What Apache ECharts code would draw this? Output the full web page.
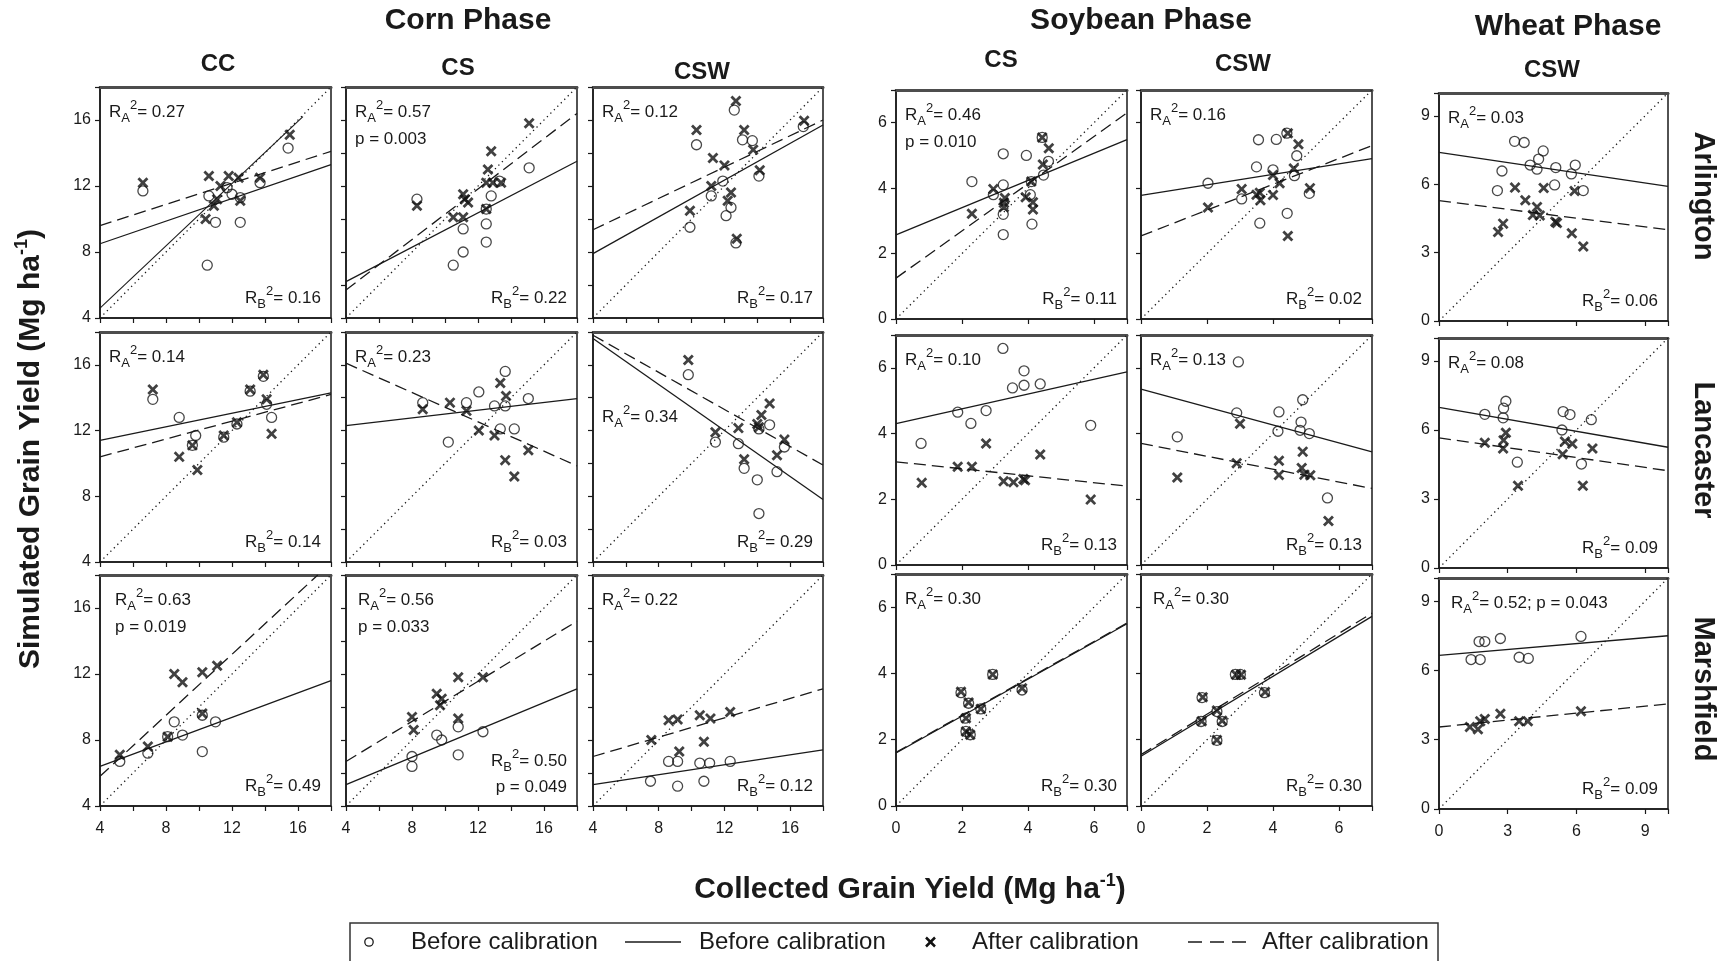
<!DOCTYPE html>
<html><head><meta charset="utf-8">
<script src="https://cdn.jsdelivr.net/npm/echarts@6/dist/echarts.min.js"></script>
<style>html,body{margin:0;padding:0;background:#fff;}#c{width:1728px;height:961px;}</style>
</head><body><div id="c"></div>
<script>
// ---------- labels ----------
const PHASES = ['Corn Phase', 'Soybean Phase', 'Wheat Phase'];
const ROTATIONS = ['CC', 'CS', 'CSW', 'CS', 'CSW', 'CSW'];
const SITES = ['Arlington', 'Lancaster', 'Marshfield'];
const X_TITLE = 'Collected Grain Yield (Mg ha';
const Y_TITLE = 'Simulated Grain Yield (Mg ha';
const LEGEND_TEXT = ['Before calibration', 'Before calibration', 'After calibration', 'After calibration'];

// ---------- axes ----------
const CORN_RANGE = [4, 18];
const SOY_RANGE = [0, 7];
const WHEAT_RANGE = [0, 10];
const CORN_TICKS = [4, 8, 12, 16];
const SOY_TICKS = [0, 2, 4, 6];
const WHEAT_TICKS = [0, 3, 6, 9];

// ---------- Arlington ----------
const ARL_CC_B = [[6.6,11.7],[10.5,7.2],[10.6,11.4],[11.0,9.8],[11.7,11.9],[12.0,11.5],[12.5,9.8],[12.5,11.3],[13.7,12.2],[15.4,14.3]];
const ARL_CC_A = [[6.6,12.2],[10.6,12.6],[10.4,10.0],[10.9,10.8],[11.1,11.2],[11.3,12.0],[11.8,12.6],[12.4,12.5],[12.5,11.1],[13.7,12.5],[15.5,15.1]];
const ARL_CC_LB = [[4,8.5],[18,13.3]];
const ARL_CC_LA = [[4,9.6],[18,14.1]];
const ARL_CC_LX = [[4,4.6],[16.3,16.2]];

const ARL_CS_B = [[8.3,11.2],[10.5,7.2],[11.1,8.0],[11.1,9.4],[12.5,8.6],[12.5,9.7],[12.5,10.6],[12.8,11.4],[13.3,12.3],[15.1,13.1]];
const ARL_CS_A = [[8.3,10.8],[10.5,10.1],[11.1,10.1],[11.1,11.5],[11.4,11.0],[11.2,11.2],[12.5,10.6],[12.6,13.0],[12.8,14.1],[12.5,12.2],[12.9,12.2],[13.4,12.2],[15.1,15.8]];
const ARL_CS_LB = [[4,6.2],[18,13.5]];
const ARL_CS_LA = [[4,5.7],[18,16.4]];

const ARL_CSW_B = [[9.9,9.5],[10.3,14.5],[11.2,11.4],[11.9,12.3],[12.1,10.2],[12.4,10.7],[12.6,16.6],[12.7,8.55],[13.1,14.8],[13.7,14.75],[14.1,12.6],[16.8,15.6]];
const ARL_CSW_A = [[9.9,10.5],[10.3,15.4],[11.2,12.0],[11.3,13.7],[12.0,13.25],[12.4,11.6],[12.2,11.1],[12.7,17.15],[12.75,8.8],[13.2,15.4],[13.75,14.2],[14.15,12.95],[16.85,15.95]];
const ARL_CSW_LB = [[4,7.9],[18,15.7]];
const ARL_CSW_LA = [[4,9.35],[18,16.0]];

const ARL_SCS_B = [[2.3,4.2],[2.95,3.8],[3.25,5.05],[3.25,4.1],[3.25,3.2],[3.25,2.58],[3.95,5.0],[4.07,3.8],[4.12,2.9],[4.1,4.2],[4.47,4.4],[4.62,4.82],[4.43,5.55]];
const ARL_SCS_A = [[2.3,3.22],[2.95,3.97],[3.27,3.55],[3.27,3.42],[3.3,3.7],[3.93,3.72],[4.1,4.2],[4.15,3.57],[4.15,3.35],[4.45,4.72],[4.43,5.55],[4.63,5.22]];
const ARL_SCS_LB = [[0,2.57],[7,5.48]];
const ARL_SCS_LA = [[0,1.25],[7,6.3]];

const ARL_SCSW_B = [[2.03,4.15],[3.05,3.67],[3.5,4.65],[3.56,5.48],[3.6,2.93],[4.1,5.49],[4.0,4.56],[4.43,3.23],[4.42,5.68],[4.65,4.38],[4.72,4.99],[5.1,3.84]];
const ARL_SCSW_A = [[2.03,3.41],[3.05,3.97],[3.5,3.8],[3.6,3.86],[3.62,3.63],[4.0,3.79],[4.0,4.4],[4.2,4.15],[4.45,5.68],[4.45,2.54],[4.63,4.6],[4.77,5.34],[5.12,4.0]];
const ARL_SCSW_LB = [[0,3.78],[7,4.9]];
const ARL_SCSW_LA = [[0,2.54],[7,5.3]];

const ARL_W_B = [[2.55,5.72],[2.75,6.58],[3.3,7.88],[3.72,7.83],[3.98,6.84],[4.28,6.66],[4.35,7.1],[4.55,7.46],[5.05,5.97],[5.1,6.73],[5.78,6.45],[5.95,6.84],[6.3,5.72]];
const ARL_W_A = [[2.58,3.9],[2.8,4.27],[3.32,5.85],[3.77,5.3],[4.1,4.65],[4.28,5.0],[4.4,4.63],[4.57,5.83],[5.08,4.35],[5.15,4.3],[5.8,3.85],[6.3,3.27],[5.92,5.7]];
const ARL_W_LB = [[0,7.4],[10,5.9]];
const ARL_W_LA = [[0,5.28],[10,4.0]];

// ---------- Lancaster ----------
const LAN_CC_B = [[7.2,13.9],[8.8,12.8],[9.8,11.7],[9.6,11.1],[11.5,11.6],[12.3,12.4],[13.1,14.4],[13.9,15.3],[14.1,13.6],[14.4,12.8]];
const LAN_CC_A = [[7.2,14.5],[8.8,10.4],[9.6,11.1],[9.9,9.6],[11.5,11.7],[12.3,12.5],[13.1,14.5],[13.9,15.4],[14.1,13.9],[14.4,11.8]];
const LAN_CC_LB = [[4,11.4],[18,14.3]];
const LAN_CC_LA = [[4,10.4],[18,14.2]];

const LAN_CS_B = [[8.65,13.7],[10.2,11.3],[11.3,13.7],[12.05,14.35],[13.0,13.5],[13.65,15.6],[13.65,13.5],[13.35,12.1],[14.2,12.1],[15.05,13.95]];
const LAN_CS_A = [[8.65,13.3],[10.3,13.7],[11.3,13.2],[12.05,12.0],[13.0,11.7],[13.35,14.9],[13.7,14.1],[13.65,10.2],[14.2,9.2],[15.05,10.8]];
const LAN_CS_LB = [[4,12.3],[18,13.95]];
const LAN_CS_LA = [[4,16.1],[18,9.85]];

const LAN_CSW_B = [[9.8,15.4],[11.45,11.3],[12.85,11.2],[13.2,9.7],[14.0,9.0],[14.1,6.95],[14.75,12.35],[15.2,9.5],[15.65,11.0],[14.1,12.1]];
const LAN_CSW_A = [[9.8,16.3],[11.45,11.9],[12.85,12.15],[13.2,10.25],[14.0,12.4],[14.1,12.2],[14.25,12.95],[14.75,13.65],[15.2,10.5],[15.65,11.45]];
const LAN_CSW_LB = [[4,17.6],[18,7.8]];
const LAN_CSW_LA = [[4,17.8],[18,9.9]];

const LAN_SCS_B = [[0.76,3.7],[1.87,4.65],[2.27,4.31],[2.73,4.7],[3.24,6.59],[3.53,5.39],[3.88,5.47],[3.88,5.91],[4.37,5.51],[5.9,4.25]];
const LAN_SCS_A = [[0.78,2.5],[1.87,2.99],[2.3,2.99],[2.73,3.7],[3.26,2.55],[3.56,2.52],[3.86,2.62],[3.91,2.58],[4.37,3.36],[5.9,1.99]];
const LAN_SCS_LB = [[0,4.3],[7,5.88]];
const LAN_SCS_LA = [[0,3.14],[7,2.4]];

const LAN_SCSW_B = [[1.1,3.9],[2.95,6.18],[2.9,4.63],[4.18,4.66],[4.15,4.07],[4.9,5.03],[4.85,4.35],[4.82,4.1],[5.1,4.0],[5.65,2.04]];
const LAN_SCSW_A = [[1.1,2.66],[3.0,4.3],[2.9,3.1],[4.18,3.17],[4.18,2.74],[4.9,3.45],[4.87,2.95],[4.95,2.75],[5.13,2.73],[5.68,1.34]];
const LAN_SCSW_LB = [[0,5.35],[7,3.44]];
const LAN_SCSW_LA = [[0,3.7],[7,2.33]];

const LAN_W_B = [[2.0,6.68],[2.8,6.53],[2.82,6.95],[2.92,7.25],[3.42,4.6],[5.42,6.8],[5.72,6.67],[5.37,6.0],[6.65,6.45],[6.22,4.52]];
const LAN_W_A = [[2.0,5.45],[2.8,5.2],[2.82,5.55],[2.92,5.88],[3.45,3.58],[5.4,4.95],[5.5,5.5],[5.82,5.4],[6.7,5.2],[6.28,3.58]];
const LAN_W_LB = [[0,6.98],[10,5.25]];
const LAN_W_LA = [[0,5.66],[10,4.23]];

// ---------- Marshfield ----------
const MAR_CC_B = [[5.2,6.7],[6.9,7.2],[8.1,8.2],[8.5,9.1],[9.0,8.3],[10.2,7.3],[10.2,9.5],[11.0,9.1]];
const MAR_CC_A = [[5.2,7.1],[6.9,7.6],[8.1,8.2],[8.5,12.0],[9.0,11.5],[10.2,12.1],[11.1,12.5],[10.2,9.6]];
const MAR_CC_LB = [[4,6.4],[18,11.6]];
const MAR_CC_LA = [[4,5.8],[17.2,18]];

const MAR_CS_B = [[8.0,7.0],[8.0,6.4],[9.5,8.3],[9.8,8.0],[10.8,7.1],[10.8,8.8],[12.3,8.5]];
const MAR_CS_A = [[8.0,9.4],[8.1,8.6],[9.5,10.8],[9.8,10.5],[9.7,10.1],[10.8,11.8],[10.8,9.3],[12.3,11.8]];
const MAR_CS_LB = [[4,5.3],[18,11.1]];
const MAR_CS_LA = [[4,6.7],[18,15.2]];

const MAR_CSW_B = [[7.5,5.5],[8.6,6.7],[9.15,6.7],[9.15,5.2],[10.5,6.6],[10.75,5.5],[11.1,6.6],[12.35,6.7]];
const MAR_CSW_A = [[7.55,8.0],[8.6,9.2],[9.15,9.25],[9.25,7.3],[10.5,9.5],[10.75,7.9],[11.15,9.3],[12.35,9.7]];
const MAR_CSW_LB = [[4,5.3],[18,7.4]];
const MAR_CSW_LA = [[4,7.0],[18,11.1]];

const MAR_SCS_B = [[1.97,3.42],[2.2,3.1],[2.12,2.25],[2.25,2.15],[2.57,2.93],[2.93,3.97],[3.82,3.5],[2.1,2.65]];
const MAR_SCS_A = [[1.97,3.45],[2.2,3.12],[2.12,2.65],[2.12,2.25],[2.25,2.15],[2.57,2.93],[2.93,3.97],[3.82,3.55]];
const MAR_SCS_LB = [[0,1.6],[7,5.5]];
const MAR_SCS_LA = [[0,1.62],[7,5.52]];

const MAR_SCSW_B = [[1.85,3.27],[1.82,2.55],[2.3,2.85],[2.46,2.55],[2.3,1.98],[2.86,3.97],[3.01,3.97],[3.74,3.42]];
const MAR_SCSW_A = [[1.87,3.28],[1.84,2.56],[2.3,2.88],[2.46,2.57],[2.3,1.99],[2.88,3.96],[3.03,3.96],[3.76,3.44]];
const MAR_SCSW_LB = [[0,1.5],[7,5.72]];
const MAR_SCSW_LA = [[0,1.55],[7,5.82]];

const MAR_W_B = [[1.4,6.47],[1.75,7.25],[2.0,7.25],[1.8,6.47],[2.68,7.38],[3.5,6.57],[3.9,6.52],[6.2,7.47]];
const MAR_W_A = [[1.35,3.55],[1.7,3.45],[1.8,3.8],[2.0,3.9],[2.68,4.12],[3.5,3.8],[3.88,3.8],[6.2,4.23]];
const MAR_W_LB = [[0,6.65],[10,7.5]];
const MAR_W_LA = [[0,3.55],[10,4.55]];

// ---------- statistics text ----------
const RA_TEXT = [['0.27','0.57','0.12','0.46','0.16','0.03'],['0.14','0.23','0.34','0.10','0.13','0.08'],['0.63','0.56','0.22','0.30','0.30','0.52; p = 0.043']];
const PA_TEXT = [['','p = 0.003','','p = 0.010','',''],['','','','','',''],['p = 0.019','p = 0.033','','','','']];
const RB_TEXT = [['0.16','0.22','0.17','0.11','0.02','0.06'],['0.14','0.03','0.29','0.13','0.13','0.09'],['0.49','0.50','0.12','0.30','0.30','0.09']];
const PB_TEXT = [['','','','','',''],['','','','','',''],['','p = 0.049','','','','']];

// ---------- assembly ----------
const PANELS = [
  [[ARL_CC_B,ARL_CC_A,ARL_CC_LB,ARL_CC_LA,ARL_CC_LX],[ARL_CS_B,ARL_CS_A,ARL_CS_LB,ARL_CS_LA],[ARL_CSW_B,ARL_CSW_A,ARL_CSW_LB,ARL_CSW_LA],[ARL_SCS_B,ARL_SCS_A,ARL_SCS_LB,ARL_SCS_LA],[ARL_SCSW_B,ARL_SCSW_A,ARL_SCSW_LB,ARL_SCSW_LA],[ARL_W_B,ARL_W_A,ARL_W_LB,ARL_W_LA]],
  [[LAN_CC_B,LAN_CC_A,LAN_CC_LB,LAN_CC_LA],[LAN_CS_B,LAN_CS_A,LAN_CS_LB,LAN_CS_LA],[LAN_CSW_B,LAN_CSW_A,LAN_CSW_LB,LAN_CSW_LA],[LAN_SCS_B,LAN_SCS_A,LAN_SCS_LB,LAN_SCS_LA],[LAN_SCSW_B,LAN_SCSW_A,LAN_SCSW_LB,LAN_SCSW_LA],[LAN_W_B,LAN_W_A,LAN_W_LB,LAN_W_LA]],
  [[MAR_CC_B,MAR_CC_A,MAR_CC_LB,MAR_CC_LA],[MAR_CS_B,MAR_CS_A,MAR_CS_LB,MAR_CS_LA],[MAR_CSW_B,MAR_CSW_A,MAR_CSW_LB,MAR_CSW_LA],[MAR_SCS_B,MAR_SCS_A,MAR_SCS_LB,MAR_SCS_LA],[MAR_SCSW_B,MAR_SCSW_A,MAR_SCSW_LB,MAR_SCSW_LA],[MAR_W_B,MAR_W_A,MAR_W_LB,MAR_W_LA]]
];

const FONT = "'Liberation Sans', Arial, Helvetica, sans-serif";
const INK = '#1a1a1a';
const COLS = [
  {left:100, width:231, range:CORN_RANGE, ticks:CORN_TICKS, xStep:2, yStep:4, yLabels:true,  grp:'corn'},
  {left:346, width:231, range:CORN_RANGE, ticks:CORN_TICKS, xStep:2, yStep:2, yLabels:false, grp:'corn'},
  {left:593, width:230, range:CORN_RANGE, ticks:CORN_TICKS, xStep:2, yStep:2, yLabels:false, grp:'corn'},
  {left:896, width:231, range:SOY_RANGE, ticks:SOY_TICKS, xStep:2, yStep:2, yLabels:true,  grp:'soy'},
  {left:1141,width:231, range:SOY_RANGE, ticks:SOY_TICKS, xStep:2, yStep:2, yLabels:false, grp:'soy'},
  {left:1439,width:229, range:WHEAT_RANGE, ticks:WHEAT_TICKS, xStep:3, yStep:3, yLabels:true, grp:'wheat'}
];
const ROWS = {corn:[[87,231],[332,230],[575,231]], soy:[[90,229],[335,230],[574,232]], wheat:[[93,228],[338,230],[578,231]]};
const XSYM = 'path://M0,1.8L1.8,0L5,3.2L8.2,0L10,1.8L6.8,5L10,8.2L8.2,10L5,6.8L1.8,10L0,8.2L3.2,5Z';

const grids=[], xAxes=[], yAxes=[], series=[], graphics=[];
const fmt = ticks => v => (ticks.indexOf(v) >= 0 ? String(v) : '');
const richStats = {
  m:{fontSize:17, fontFamily:FONT, lineHeight:26, fill:INK, color:INK},
  sub:{fontSize:13, fontFamily:FONT, lineHeight:13, verticalAlign:'bottom', fill:INK, color:INK},
  sup:{fontSize:13, fontFamily:FONT, lineHeight:13, verticalAlign:'top', fill:INK, color:INK}
};
function txt(x, y, text, opts) {
  opts = opts || {};
  const style = Object.assign({text, x:0, y:0, fill:INK, font: (opts.weight||'normal')+' '+(opts.size||17)+'px '+FONT,
    align: opts.align||'left', verticalAlign:'middle', textAlign: opts.align||'left', textVerticalAlign:'middle'}, opts.rich ? {rich: opts.rich} : {});
  return {type:'text', x, y, rotation: opts.rotation||0, silent:true, z:100, style};
}

for (let r = 0; r < 3; r++) {
  for (let c = 0; c < 6; c++) {
    const col = COLS[c];
    const [top, height] = ROWS[col.grp][r];
    const idx = grids.length;
    const [mn, mx] = col.range;
    grids.push({left:col.left, top, width:col.width, height, show:true, borderColor:INK, borderWidth:1.5, backgroundColor:'#fff'});
    xAxes.push({type:'value', gridIndex:idx, min:mn, max:mx, interval:col.xStep, position:'bottom',
      axisLine:{show:true, onZero:false, lineStyle:{color:INK, width:1.5}},
      axisTick:{show:true, length:5, lineStyle:{color:INK, width:1.2}},
      axisLabel:{show:r===2, formatter:fmt(col.ticks), fontSize:16, color:INK, fontFamily:FONT, margin:15},
      splitLine:{show:false}});
    xAxes.push({type:'value', gridIndex:idx, min:mn, max:mx, position:'top',
      axisLine:{show:true, onZero:false, lineStyle:{color:'#4d4d4d', width:3}},
      axisTick:{show:false}, axisLabel:{show:false}, splitLine:{show:false}});
    yAxes.push({type:'value', gridIndex:idx, min:mn, max:mx, interval:col.yStep, position:'left',
      axisLine:{show:true, onZero:false, lineStyle:{color:INK, width:1.5}},
      axisTick:{show:true, length:5, lineStyle:{color:INK, width:1.2}},
      axisLabel:{show:col.yLabels, formatter:fmt(col.ticks), fontSize:16, color:INK, fontFamily:FONT, margin:9},
      splitLine:{show:false}});
    const xi = 2*idx, yi = idx;
    const p = PANELS[r][c];
    const mkLine = (data, type, w) => ({type:'line', xAxisIndex:xi, yAxisIndex:yi, data, symbol:'none', showSymbol:false,
      silent:true, z:2, clip:true, animation:false, lineStyle:{color:INK, width:w, type}});
    series.push(mkLine([[mn,mn],[mx,mx]], [1.3,3.6], 1.3));
    series.push(mkLine(p[2], 'solid', 1.3));
    series.push(mkLine(p[3], [12,6], 1.3));
    if (p[4]) series.push(mkLine(p[4], 'solid', 1.1));
    series.push({type:'scatter', xAxisIndex:xi, yAxisIndex:yi, data:p[0], symbol:'circle', symbolSize:10, silent:true, z:3, animation:false,
      itemStyle:{color:'rgba(255,255,255,0)', borderColor:INK, borderWidth:1.3}});
    series.push({type:'scatter', xAxisIndex:xi, yAxisIndex:yi, data:p[1], symbol:XSYM, symbolSize:11, silent:true, z:4, animation:false,
      itemStyle:{color:'#111'}});

    // statistics text
    let dx = 9, dy = 25;
    if (r===1 && c===2) dy = 85;
    if (r===2 && c===0) dx = 15;
    if (r===2 && (c===1 || c===4 || c===5)) dx = 12;
    const right = col.left + col.width - 10, bottom = top + height;
    graphics.push(txt(col.left+dx, top+dy, '{m|R}{sub|A}{sup|2}{m|= '+RA_TEXT[r][c]+'}', {rich:richStats}));
    if (PA_TEXT[r][c]) graphics.push(txt(col.left+dx, top+dy+27, PA_TEXT[r][c], {size:17}));
    const rbY = PB_TEXT[r][c] ? bottom-45 : bottom-20;
    graphics.push(txt(right, rbY, '{m|R}{sub|B}{sup|2}{m|= '+RB_TEXT[r][c]+'}', {rich:richStats, align:'right'}));
    if (PB_TEXT[r][c]) graphics.push(txt(right, bottom-19, PB_TEXT[r][c], {size:17, align:'right'}));
  }
}

// headings
const PHASE_POS = [[468,21],[1141,21],[1568,27]];
PHASES.forEach((t,i)=>graphics.push(txt(PHASE_POS[i][0], PHASE_POS[i][1], t, {size:30, weight:'bold', align:'center'})));
const ROT_POS = [[218,64],[458,68],[702,72],[1001,60],[1243,64],[1552,70]];
ROTATIONS.forEach((t,i)=>graphics.push(txt(ROT_POS[i][0], ROT_POS[i][1], t, {size:24, weight:'bold', align:'center'})));
const SITE_Y = [196,450,689];
SITES.forEach((t,i)=>graphics.push(txt(1703, SITE_Y[i], t, {size:29, weight:'bold', align:'center', rotation:-Math.PI/2})));
const richTitle = {
  t:{fontSize:30, fontWeight:'bold', fontFamily:FONT, lineHeight:36, fill:INK, color:INK},
  s:{fontSize:18, fontWeight:'bold', fontFamily:FONT, lineHeight:18, verticalAlign:'top', fill:INK, color:INK}
};
graphics.push(txt(910, 890, '{t|'+X_TITLE+'}{s|-1}{t|)}', {rich:richTitle, align:'center'}));
graphics.push(txt(31, 449, '{t|'+Y_TITLE+'}{s|-1}{t|)}', {rich:richTitle, align:'center', rotation:Math.PI/2}));

// legend box
graphics.push({type:'rect', silent:true, z:90, shape:{x:350, y:923, width:1088, height:60}, style:{fill:'#fff', stroke:'#333', lineWidth:1.5}});
const LY = 942;
graphics.push({type:'circle', silent:true, z:100, shape:{cx:369, cy:LY, r:4.2}, style:{fill:'none', stroke:INK, lineWidth:1.3}});
graphics.push(txt(411, LY, LEGEND_TEXT[0], {size:24}));
graphics.push({type:'line', silent:true, z:100, shape:{x1:625, y1:LY, x2:681, y2:LY}, style:{stroke:INK, lineWidth:1.4}});
graphics.push(txt(699, LY, LEGEND_TEXT[1], {size:24}));
graphics.push({type:'line', silent:true, z:100, shape:{x1:926, y1:LY-4.5, x2:935, y2:LY+4.5}, style:{stroke:'#111', lineWidth:2.5}});
graphics.push({type:'line', silent:true, z:100, shape:{x1:926, y1:LY+4.5, x2:935, y2:LY-4.5}, style:{stroke:'#111', lineWidth:2.5}});
graphics.push(txt(972, LY, LEGEND_TEXT[2], {size:24}));
graphics.push({type:'line', silent:true, z:100, shape:{x1:1188, y1:LY, x2:1250, y2:LY}, style:{stroke:INK, lineWidth:1.4, lineDash:[14,8]}});
graphics.push(txt(1262, LY, LEGEND_TEXT[3], {size:24}));

const chart = echarts.init(document.getElementById('c'), null, {renderer:'canvas'});
chart.setOption({
  backgroundColor:'#fff', animation:false,
  grid:grids, xAxis:xAxes, yAxis:yAxes, series, graphic:{elements:graphics}
});
</script></body></html>
